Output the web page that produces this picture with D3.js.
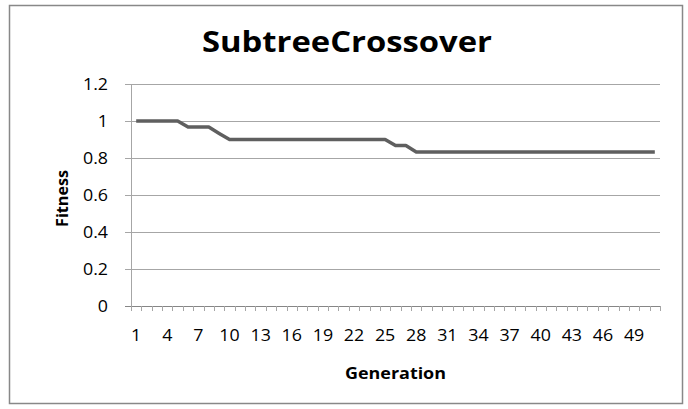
<!DOCTYPE html>
<html>
<head>
<meta charset="utf-8">
<script src="https://cdn.jsdelivr.net/npm/d3@7"></script>
<style>
body { margin: 0; background: #fff; }
text { font-family: "Open Sans", "Noto Sans", sans-serif; fill: #000; }
</style>
</head>
<body>
<div class="chart"></div>
<script>
// generations 1..51 and best fitness per generation
const generations = d3.range(1, 52);
const fitness = [
	1, 1, 1, 1, 1, 0.967, 0.967, 0.967, 0.933, 0.9,
	0.9, 0.9, 0.9, 0.9, 0.9, 0.9, 0.9, 0.9, 0.9, 0.9,
	0.9, 0.9, 0.9, 0.9, 0.9, 0.867, 0.867, 0.833, 0.833, 0.833,
	0.833, 0.833, 0.833, 0.833, 0.833, 0.833, 0.833, 0.833, 0.833, 0.833,
	0.833, 0.833, 0.833, 0.833, 0.833, 0.833, 0.833, 0.833, 0.833, 0.833,
	0.833
];
const yTicks = [0, 0.2, 0.4, 0.6, 0.8, 1, 1.2];
const xLabels = generations.filter((d, i) => i % 3 == 0);

const width = 688;
const height = 409;
const svg = d3.select('.chart')
	.append('svg')
	.attr('width', width)
	.attr('height', height)

// outer chart border
svg.append('rect')
	.attr('x', 9.5)
	.attr('y', 5.5)
	.attr('width', 673)
	.attr('height', 398)
	.attr('fill', 'none')
	.attr('stroke', '#888')
	.attr('stroke-width', 1.5)

const plotLeft = 131, plotRight = 660, plotTop = 84, plotBottom = 306;

const x = d3.scaleBand()
	.domain(generations)
	.range([plotLeft, plotRight])

const y = d3.scaleLinear()
	.domain([0, 1.2])
	.range([plotBottom, plotTop])

// gridlines
svg.append('g')
	.selectAll('line')
	.data(yTicks)
	.enter()
	.append('line')
	.attr('x1', plotLeft - 6)
	.attr('x2', plotRight)
	.attr('y1', d => Math.round(y(d)) + 0.5)
	.attr('y2', d => Math.round(y(d)) + 0.5)
	.attr('stroke', d => d == 0 ? '#868686' : '#a6a6a6')
	.attr('stroke-width', 1)

// y axis line
svg.append('line')
	.attr('x1', plotLeft + 0.5)
	.attr('x2', plotLeft + 0.5)
	.attr('y1', plotTop)
	.attr('y2', plotBottom)
	.attr('stroke', '#a6a6a6')

// y tick labels (stretched a bit, like the original)
svg.append('g')
	.selectAll('text')
	.data(yTicks)
	.enter()
	.append('text')
	.attr('transform', d => `translate(108,${y(d)}) scale(1.15,1)`)
	.attr('dy', '0.36em')
	.attr('text-anchor', 'end')
	.attr('font-size', 15.5)
	.text(d => d)

// x tick marks at category boundaries
const bounds = generations.map(d => x(d)).concat([plotRight]);
svg.append('g')
	.selectAll('line')
	.data(bounds)
	.enter()
	.append('line')
	.attr('x1', d => Math.round(d) + 0.5)
	.attr('x2', d => Math.round(d) + 0.5)
	.attr('y1', plotBottom)
	.attr('y2', plotBottom + 5)
	.attr('stroke', '#a6a6a6')

// x tick labels
svg.append('g')
	.selectAll('text')
	.data(xLabels)
	.enter()
	.append('text')
	.attr('transform', d => `translate(${x(d) + x.bandwidth() / 2},341) scale(1.15,1)`)
	.attr('text-anchor', 'middle')
	.attr('font-size', 15.5)
	.text(d => d)

// fitness line
const line = d3.line()
	.x((d, i) => x(generations[i]) + x.bandwidth() / 2)
	.y(d => y(d))

svg.append('path')
	.datum(fitness)
	.attr('d', line)
	.attr('fill', 'none')
	.attr('stroke', '#5f5f5f')
	.attr('stroke-width', 3.5)
	.attr('stroke-linejoin', 'round')

// titles
svg.append('text')
	.attr('x', 347)
	.attr('y', 52)
	.attr('text-anchor', 'middle')
	.attr('font-size', 28)
	.attr('font-weight', 'bold')
	.attr('textLength', 290)
	.attr('lengthAdjust', 'spacingAndGlyphs')
	.text('SubtreeCrossover')

svg.append('text')
	.attr('x', 395.5)
	.attr('y', 379)
	.attr('text-anchor', 'middle')
	.attr('font-size', 15.5)
	.attr('font-weight', 'bold')
	.attr('textLength', 101)
	.attr('lengthAdjust', 'spacingAndGlyphs')
	.text('Generation')

svg.append('text')
	.attr('transform', 'translate(68,198.5) rotate(-90)')
	.attr('text-anchor', 'middle')
	.attr('font-size', 15.5)
	.attr('font-weight', 'bold')
	.attr('textLength', 57)
	.attr('lengthAdjust', 'spacingAndGlyphs')
	.text('Fitness')
</script>
</body>
</html>
